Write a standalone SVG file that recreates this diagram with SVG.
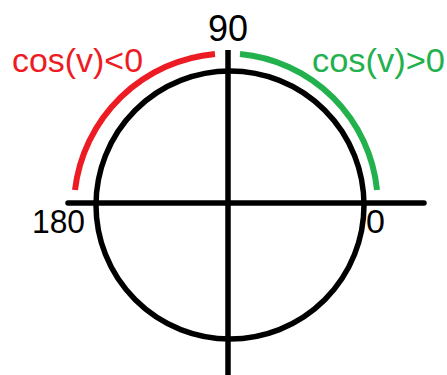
<svg xmlns="http://www.w3.org/2000/svg" width="447" height="375" viewBox="0 0 447 375">
<style>
.ax{stroke:#000;stroke-width:5.5;fill:none;stroke-linecap:round}
.arc{fill:none;stroke-width:6}
text{font-family:"Liberation Sans","DejaVu Sans",sans-serif}
</style>
<rect width="447" height="375" fill="#fff"/>
<g id="circle"><circle class="ax" cx="230" cy="205" r="134"/></g>
<g id="connectors">
<line class="ax" x1="228" y1="50" x2="228" y2="378" style="stroke-linecap:butt"/>
<line class="ax" x1="68" y1="203" x2="424" y2="203"/>
</g>
<g id="neg-arc"><path class="arc" stroke="#ED1C24" d="M75 190 A155 155 0 0 1 215 54"/>
<text x="12" y="72" font-size="34" fill="#ED1C24" textLength="131" lengthAdjust="spacingAndGlyphs">cos(v)&lt;0</text></g>
<g id="pos-arc"><path class="arc" stroke="#22B14C" d="M240 54 A152 152 0 0 1 377 190"/>
<text x="312" y="72" font-size="34" fill="#22B14C" textLength="133" lengthAdjust="spacingAndGlyphs">cos(v)&gt;0</text></g>
<g id="labels">
<text x="228" y="41" font-size="36" text-anchor="middle">90</text>
<text x="32" y="233" font-size="34" textLength="53" lengthAdjust="spacingAndGlyphs">180</text>
<text x="366" y="233" font-size="34">0</text>
</g>
</svg>
